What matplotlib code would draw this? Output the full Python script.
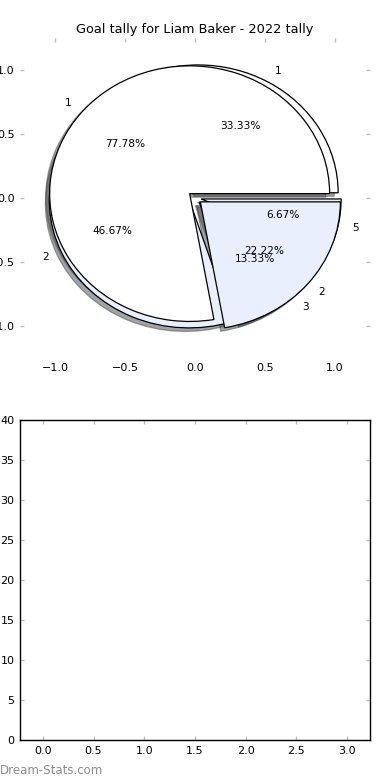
import matplotlib
matplotlib.use("Agg")
import matplotlib.pyplot as plt

# outer (drawn first) pie
goals_b = [5, 7, 2, 1]
labels_b = ["1", "2", "3", "5"]
# inner (drawn on top) pie
goals_a = [7, 2]
labels_a = ["1", "2"]

title = "Goal tally for Liam Baker - 2022 tally"
pie_ticks = [-1.0, -0.5, 0.0, 0.5, 1.0]
bar_xticks = [0.0, 0.5, 1.0, 1.5, 2.0, 2.5, 3.0]
bar_yticks = [0, 5, 10, 15, 20, 25, 30, 35, 40]

WHITE = "#ffffff"
LIGHT_BLUE = "#e9effd"
TICK_GREY = "#bdbdbd"

plt.rcParams.update({
    "font.family": "DejaVu Sans",
    "font.size": 8,
    "xtick.direction": "in",
    "ytick.direction": "in",
})


def style_ticks(ax):
    ax.tick_params(which="both", direction="in", length=3, width=1.0,
                   color=TICK_GREY, labelcolor="black", labelsize=8,
                   top=True, right=True, pad=4)


fig, (ax1, ax2) = plt.subplots(2, 1, figsize=(3.9, 7.8), dpi=100)
fig.subplots_adjust(left=0.0513, right=0.9487, top=0.9513, bottom=0.0513,
                    hspace=0.197)

edge = {"edgecolor": "black", "linewidth": 0.9}
txt = {"fontsize": 7.6}

ax1.pie(goals_b, labels=labels_b, colors=[WHITE, LIGHT_BLUE, WHITE, LIGHT_BLUE],
        explode=[0.045] * len(goals_b), shadow=True, autopct="%1.2f%%",
        wedgeprops=edge, textprops=txt, frame=True)
ax1.pie(goals_a, labels=labels_a, colors=[WHITE, LIGHT_BLUE],
        explode=[0.05] * len(goals_a), shadow=True, autopct="%1.2f%%",
        wedgeprops=edge, textprops=txt, frame=True)
ax1.set_aspect("auto")
ax1.set_xlim(-1.25, 1.25)
ax1.set_ylim(-1.25, 1.25)
ax1.set_xticks(pie_ticks)
ax1.set_yticks(pie_ticks)
ax1.set_frame_on(False)
style_ticks(ax1)
ax1.tick_params(bottom=False)
ax1.set_title(title, fontsize=9.3, pad=3.5)

ax2.set_xlim(-0.225, 3.225)
ax2.set_ylim(0, 40)
ax2.set_xticks(bar_xticks)
ax2.set_yticks(bar_yticks)
for s in ax2.spines.values():
    s.set_linewidth(1.0)
    s.set_color("black")
style_ticks(ax2)

fig.text(0.0, 0.004, "Dream-Stats.com", color="#8c8c8c", fontsize=8.5,
         ha="left", va="bottom")

fig.savefig("out.png", dpi=100)
